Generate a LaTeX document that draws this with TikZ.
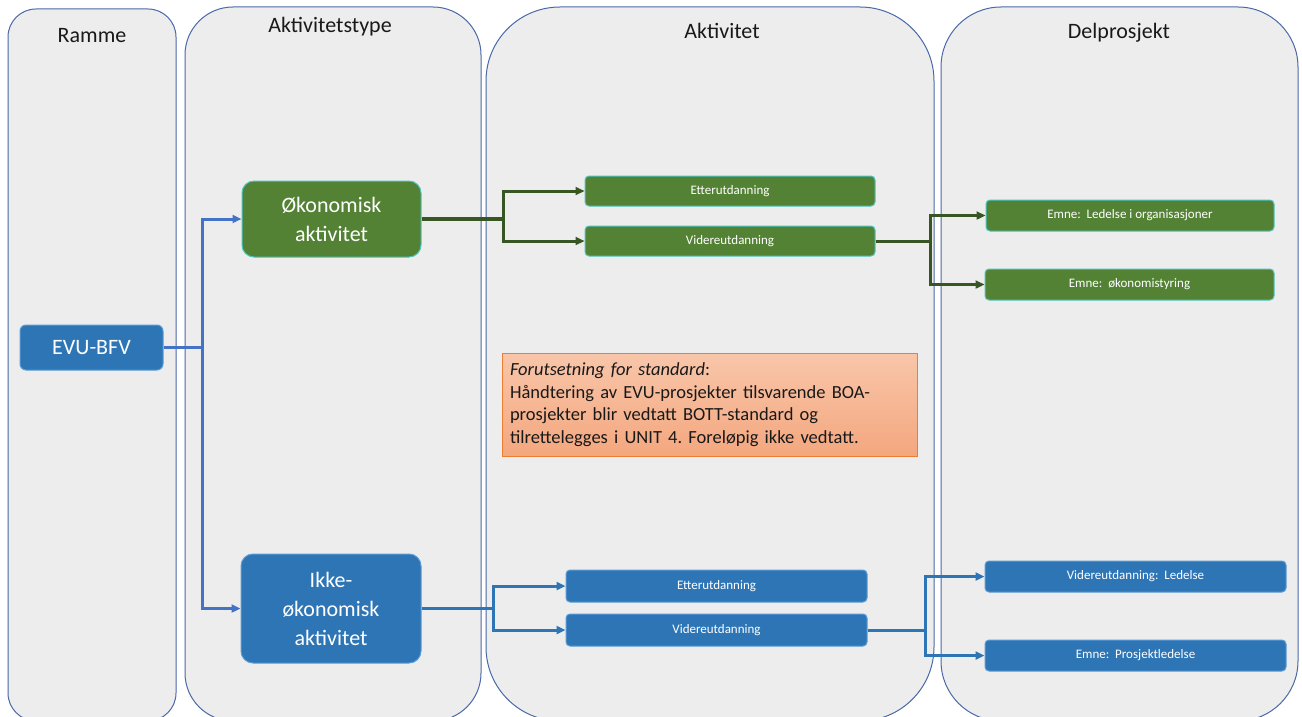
\documentclass[tikz,border=0pt]{standalone}
\usepackage{fontspec}
\setmainfont{Carlito}
\usetikzlibrary{arrows.meta}
\definecolor{lanefill}{HTML}{EDEDED}
\definecolor{laneline}{HTML}{4A69A8}
\definecolor{gfill}{HTML}{548235}
\definecolor{gline}{HTML}{4EC4BE}
\definecolor{bfill}{HTML}{2E75B6}
\definecolor{bline}{HTML}{5B9BD5}
\definecolor{garr}{HTML}{375623}
\definecolor{barr}{HTML}{4472C4}
\definecolor{barr2}{HTML}{2E75B6}
\definecolor{notetop}{HTML}{F8C6AA}
\definecolor{notebot}{HTML}{F4A77E}
\definecolor{noteline}{HTML}{ED7D31}
\tikzset{
  lane/.style={draw=laneline, fill=lanefill, line width=1pt, inner sep=0pt},
  lanetitle/.style={font=\fontsize{22}{26}\selectfont, text=black!90},
  bignode/.style={rounded corners=12pt, line width=1pt, text=white, align=center,
    font=\fontsize{22}{29}\selectfont, inner sep=0pt},
  smallnode/.style={rounded corners=4pt, line width=1pt, text=white, align=center,
    font=\fontsize{13}{15}\selectfont, inner sep=0pt},
  gbox/.style={fill=gfill, draw=gline},
  bbox/.style={fill=bfill, draw=bline},
  tip/.style={-{Triangle[length=9pt,width=8pt]}},
  garrow/.style={draw=garr, line width=3pt, tip},
  barrow/.style={draw=barr, line width=3pt, tip},
  barrowb/.style={draw=barr2, line width=3pt, tip},
}
\begin{document}
\begin{tikzpicture}[x=1pt,y=-1pt]
\useasboundingbox (0,0) rectangle (1302,717);
\clip (0,0) rectangle (1302,717);
% lanes
\node[lane, rounded corners=28pt, minimum width=168pt, minimum height=712pt] (lane1) at (92,365) {};
\node[lane, rounded corners=48pt, minimum width=296pt, minimum height=714pt] (lane2) at (333,364) {};
\node[lane, rounded corners=74pt, minimum width=448pt, minimum height=714pt] (lane3) at (710,364) {};
\node[lane, rounded corners=60pt, minimum width=357pt, minimum height=714pt] (lane4) at (1119.5,364) {};
% titles
\node[lanetitle] (t1) at (92,36) {Ramme};
\node[lanetitle] (t2) at (330,27) {Aktivitetstype};
\node[lanetitle] (t3) at (722,31) {Aktivitet};
\node[lanetitle] (t4) at (1119,33) {Delprosjekt};
% main nodes
\node[bignode, bbox, rounded corners=6pt, minimum width=143pt, minimum height=45pt] (evu) at (91.5,347.5) {EVU-BFV};
\node[bignode, gbox, minimum width=179pt, minimum height=76pt] (oko) at (331.5,219) {Økonomisk\\aktivitet};
\node[bignode, bbox, minimum width=180pt, minimum height=109pt] (ikke) at (331,608.5) {Ikke-\\økonomisk\\aktivitet};
% green activities
\node[smallnode, gbox, minimum width=290pt, minimum height=30pt] (et1) at (730,191) {Etterutdanning};
\node[smallnode, gbox, minimum width=290pt, minimum height=30pt] (vi1) at (730,241) {Videreutdanning};
\node[smallnode, gbox, minimum width=288pt, minimum height=31pt] (em1) at (1130,215.5) {Emne:\ \ Ledelse i organisasjoner};
\node[smallnode, gbox, minimum width=289pt, minimum height=31pt] (em2) at (1129.5,284.5) {Emne:\ \ økonomistyring};
% blue activities
\node[smallnode, bbox, minimum width=301pt, minimum height=32pt] (et2) at (716.5,586) {Etterutdanning};
\node[smallnode, bbox, minimum width=301pt, minimum height=32pt] (vi2) at (716.5,630) {Videreutdanning};
\node[smallnode, bbox, minimum width=301pt, minimum height=31pt] (em3) at (1135.5,576.5) {Videreutdanning:\ \ Ledelse};
\node[smallnode, bbox, minimum width=301pt, minimum height=31pt] (em4) at (1135.5,655.5) {Emne:\ \ Prosjektledelse};
% note
\node[draw=noteline, top color=notetop, bottom color=notebot, line width=1pt, minimum width=415pt, minimum height=103pt,
  text width=399pt, align=left, inner sep=0pt, font=\fontsize{18.5}{22.5}\selectfont\frenchspacing, text=black!90] (note) at (709.5,404.5)
  {\textit{Forutsetning for standard}:\\Håndtering av EVU-prosjekter tilsvarende BOA-\\prosjekter blir vedtatt BOTT-standard og\\tilrettelegges i UNIT 4. Foreløpig ikke vedtatt.};
% connectors
\coordinate (j0) at (202,347.5);
\draw[barrow] (evu.east) -- (j0) |- (oko.west);
\draw[barrow] (evu.east) -- (j0) |- (ikke.west);
\coordinate (j1) at (503,219);
\draw[draw=garr, line width=4.5pt] (oko.east) -- (j1);
\draw[garrow] (j1) |- (et1.west);
\draw[garrow] (j1) |- (vi1.west);
\coordinate (j2) at (930,241);
\draw[garrow] (vi1.east) -- (j2) |- (em1.west);
\draw[garrow] (vi1.east) -- (j2) |- (em2.west);
\coordinate (j3) at (493,608.5);
\draw[barrowb] (ikke.east) -- (j3) |- (et2.west);
\draw[barrowb] (ikke.east) -- (j3) |- (vi2.west);
\coordinate (j4) at (925,630);
\draw[barrowb] (vi2.east) -- (j4) |- (em3.west);
\draw[barrowb] (vi2.east) -- (j4) |- (em4.west);
\end{tikzpicture}
\end{document}
